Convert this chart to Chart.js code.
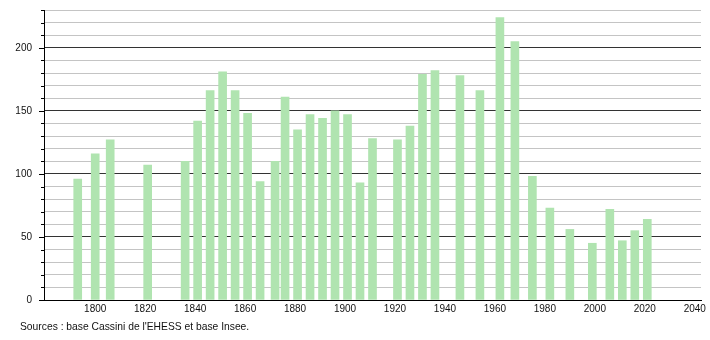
<!DOCTYPE html>
<html>
<head>
<meta charset="utf-8">
<script src="https://cdn.jsdelivr.net/npm/chart.js@4.4.1/dist/chart.umd.min.js"></script>
<style>
  html, body { margin: 0; padding: 0; background: #fff; }
  #wrap { position: relative; width: 710px; height: 340px; }
  #src {
    position: absolute; left: 20px; top: 321px;
    font: 10.3px "Liberation Sans", Arial, sans-serif; color: #111;
  }
</style>
</head>
<body>
<div id="wrap">
  <canvas id="popChart" width="710" height="340"></canvas>
  <div id="src">Sources : base Cassini de l'EHESS et base Insee.</div>
</div>
<script>
// années de recensement et population
const years = [1793, 1800, 1806, 1821, 1836, 1841, 1846, 1851, 1856, 1861, 1866,
  1872, 1876, 1881, 1886, 1891, 1896, 1901, 1906, 1911, 1921, 1926, 1931, 1936,
  1946, 1954, 1962, 1968, 1975, 1982, 1990, 1999, 2006, 2011, 2016, 2021];
const population = [96, 116, 127, 107, 110, 142, 166, 181, 166, 148, 94,
  110, 161, 135, 147, 144, 150, 147, 93, 128, 127, 138, 179, 182,
  178, 166, 224, 205, 98, 73, 56, 45, 72, 47, 55, 64];
const xTicks = [1800, 1820, 1840, 1860, 1880, 1900, 1920, 1940, 1960, 1980, 2000, 2020, 2040];
const yLabels = [0, 50, 100, 150, 200];

const FONT = { family: '"Liberation Sans", Arial, sans-serif', size: 10 };

// petits traits de graduation sur l'axe vertical (longs tous les 50, courts tous les 10)
const yTickMarks = {
  id: 'yTickMarks',
  afterDraw(chart) {
    const { ctx, scales: { y } } = chart;
    ctx.save();
    ctx.strokeStyle = '#000';
    ctx.lineWidth = 1;
    for (let v = 0; v <= 230; v += 10) {
      const py = Math.round(y.getPixelForValue(v)) + 0.5;
      const len = v % 50 === 0 ? 5 : 3;
      ctx.beginPath();
      ctx.moveTo(y.right - len, py);
      ctx.lineTo(y.right, py);
      ctx.stroke();
    }
    ctx.restore();
  }
};

new Chart(document.getElementById('popChart'), {
  type: 'bar',
  data: {
    datasets: [{
      data: years.map((yr, i) => ({ x: yr, y: population[i] })),
      backgroundColor: '#b0e4b0',
      borderWidth: 0,
      barThickness: 8
    }]
  },
  options: {
    responsive: false,
    animation: false,
    layout: { padding: { top: 10, right: 9, left: 0, bottom: 0 } },
    plugins: { legend: { display: false }, tooltip: { enabled: false } },
    scales: {
      x: {
        type: 'linear',
        offset: false,
        min: 1779.5,
        max: 2042.5,
        afterBuildTicks: (scale) => { scale.ticks = xTicks.map(v => ({ value: v })); },
        afterFit: (scale) => { scale.height = 40; },
        grid: { display: false, drawTicks: false },
        border: { display: true, color: '#000', width: 1 },
        ticks: {
          color: '#111', font: FONT, padding: 3, maxRotation: 0, autoSkip: false,
          callback: (v) => String(v)
        }
      },
      y: {
        min: 0,
        max: 230,
        afterFit: (scale) => {
          scale.width = 44;
          scale.paddingTop = 0;
          scale.paddingBottom = 0;
        },
        grid: {
          drawTicks: false,
          color: (c) => c.tick.value % 50 === 0 ? '#333' : '#c4c4c4'
        },
        border: { display: true, color: '#000', width: 1 },
        ticks: {
          stepSize: 10,
          color: '#111',
          font: FONT,
          padding: 12,
          autoSkip: false,
          callback: (v) => yLabels.includes(v) ? String(v) : ''
        }
      }
    }
  },
  plugins: [yTickMarks]
});
</script>
</body>
</html>
